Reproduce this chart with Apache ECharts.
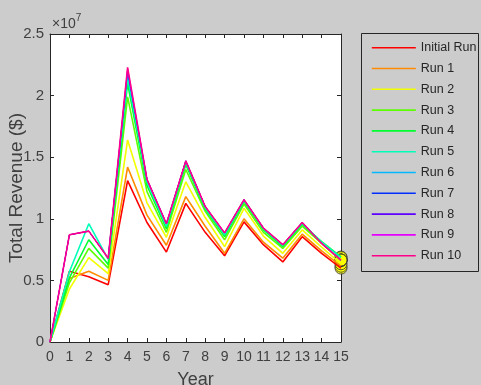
<!DOCTYPE html>
<html>
<head>
<meta charset="utf-8">
<script src="https://cdn.jsdelivr.net/npm/echarts@6/dist/echarts.min.js"></script>
<style>
  html, body { margin: 0; padding: 0; background: #cccccc; }
  #chart { width: 481px; height: 385px; }
</style>
</head>
<body>
<div id="chart"></div>
<script>
// Simulated total revenue per year, in units of 10^7 dollars
const years = [0, 1, 2, 3, 4, 5, 6, 7, 8, 9, 10, 11, 12, 13, 14, 15];
const runNames = ['Initial Run', 'Run 1', 'Run 2', 'Run 3', 'Run 4', 'Run 5',
                  'Run 6', 'Run 7', 'Run 8', 'Run 9', 'Run 10'];
const runColors = ['#ff0000', '#ff8b00', '#f2ff00', '#5dff00', '#00ff2e', '#00ffb9',
                   '#00b9ff', '#002eff', '#5d00ff', '#e800ff', '#ff008b'];

const initialRun = [0, 0.575, 0.530, 0.465, 1.31, 0.97, 0.730, 1.125, 0.89, 0.700, 0.975, 0.790, 0.650, 0.855, 0.720, 0.600];
const run1       = [0, 0.515, 0.575, 0.500, 1.42, 1.03, 0.785, 1.180, 0.94, 0.720, 1.000, 0.810, 0.680, 0.875, 0.740, 0.615];
const run2       = [0, 0.430, 0.685, 0.555, 1.64, 1.13, 0.850, 1.300, 1.01, 0.775, 1.085, 0.860, 0.720, 0.910, 0.770, 0.635];
const run3       = [0, 0.480, 0.760, 0.600, 1.99, 1.22, 0.890, 1.400, 1.06, 0.830, 1.120, 0.890, 0.760, 0.940, 0.800, 0.660];
const run4       = [0, 0.520, 0.830, 0.630, 2.10, 1.27, 0.920, 1.440, 1.08, 0.855, 1.140, 0.910, 0.775, 0.955, 0.815, 0.690];
const run5       = [0, 0.570, 0.960, 0.670, 2.15, 1.30, 0.940, 1.460, 1.09, 0.870, 1.150, 0.920, 0.785, 0.965, 0.810, 0.685];
const run6       = [0, 0.870, 0.900, 0.680, 2.18, 1.32, 0.960, 1.470, 1.10, 0.885, 1.155, 0.925, 0.790, 0.970, 0.800, 0.665];
const run7       = [0, 0.870, 0.900, 0.680, 2.20, 1.32, 0.960, 1.470, 1.10, 0.885, 1.155, 0.925, 0.790, 0.970, 0.800, 0.665];
const run8       = [0, 0.870, 0.900, 0.680, 2.21, 1.32, 0.960, 1.470, 1.10, 0.885, 1.155, 0.925, 0.790, 0.970, 0.800, 0.665];
const run9       = [0, 0.870, 0.900, 0.680, 2.22, 1.32, 0.960, 1.470, 1.10, 0.885, 1.155, 0.925, 0.790, 0.970, 0.800, 0.665];
const run10      = [0, 0.870, 0.900, 0.680, 2.23, 1.32, 0.960, 1.470, 1.10, 0.885, 1.155, 0.925, 0.790, 0.970, 0.800, 0.665];

const runs = [initialRun, run1, run2, run3, run4, run5, run6, run7, run8, run9, run10];
const yTicks = [0, 0.5, 1, 1.5, 2, 2.5];

const sans = "'Liberation Sans', Arial, sans-serif";
const axisInk = '#262626';
const labelInk = '#404040';

// runs 6-9 sit beneath run 10, so they are drawn a little thinner
const lineSeries = runs.map((vals, i) => ({
  name: runNames[i],
  type: 'line',
  xAxisIndex: 0,
  yAxisIndex: 0,
  symbol: 'none',
  silent: true,
  lineStyle: { color: runColors[i], width: (i >= 6 && i <= 9) ? 1 : 1.6 },
  itemStyle: { color: runColors[i] },
  data: years.map((y, k) => [y, vals[k]])
}));

// final-year markers for every run
const endMarkers = {
  type: 'scatter',
  xAxisIndex: 0,
  yAxisIndex: 0,
  symbol: 'circle',
  symbolSize: 12,
  silent: true,
  itemStyle: { color: '#ffff00', borderColor: '#333333', borderWidth: 1 },
  data: runs.map(vals => [years[years.length - 1], vals[vals.length - 1]])
};

const baseX = {
  type: 'value', min: 0, max: 15, interval: 1,
  splitLine: { show: false },
  axisLine: { show: true, onZero: false, lineStyle: { color: axisInk, width: 1 } },
  axisTick: { show: true, inside: true, length: 4, lineStyle: { color: axisInk } }
};
const baseY = {
  type: 'value', min: 0, max: 2.5, interval: 0.5,
  splitLine: { show: false },
  axisLine: { show: true, onZero: false, lineStyle: { color: axisInk, width: 1 } },
  axisTick: { show: true, inside: true, length: 4, lineStyle: { color: axisInk } }
};

const option = {
  animation: false,
  backgroundColor: '#cccccc',
  grid: {
    left: 50, right: 140, top: 34, bottom: 43,
    containLabel: false, outerBoundsMode: 'none',
    show: true, backgroundColor: '#ffffff', borderWidth: 0
  },
  xAxis: [
    Object.assign({}, baseX, {
      position: 'bottom',
      name: 'Year', nameLocation: 'middle', nameGap: 29, nameMoveOverlap: false,
      nameTextStyle: { fontFamily: sans, fontSize: 18, color: labelInk },
      axisLabel: { margin: 8, fontFamily: sans, fontSize: 14, color: labelInk, hideOverlap: false }
    }),
    Object.assign({}, baseX, { position: 'top', axisLabel: { show: false } })
  ],
  yAxis: [
    Object.assign({}, baseY, {
      position: 'left',
      name: 'Total Revenue ($)', nameLocation: 'middle', nameGap: 24, nameRotate: 90,
      nameMoveOverlap: false,
      nameTextStyle: { fontFamily: sans, fontSize: 19, color: labelInk },
      axisLabel: {
        margin: 6, fontFamily: sans, fontSize: 15, color: labelInk,
        formatter: v => yTicks.includes(v) ? String(v) : ''
      }
    }),
    Object.assign({}, baseY, { position: 'right', axisLabel: { show: false } })
  ],
  legend: {
    orient: 'vertical',
    left: 371, top: 40.7,
    padding: 0,
    itemWidth: 44, itemHeight: 14, itemGap: 6.8,
    data: runNames,
    itemStyle: { opacity: 0 },
    lineStyle: { width: 1.6 },
    textStyle: { fontFamily: sans, fontSize: 12.5, color: '#262626', lineHeight: 14 }
  },
  graphic: [
    {
      type: 'rect', silent: true,
      shape: { x: 361.5, y: 33.5, width: 117, height: 238 },
      style: { fill: 'none', stroke: axisInk, lineWidth: 1 }
    },
    {
      type: 'text', silent: true, left: 52, top: 13,
      style: {
        text: '{a|×10}{b|7}',
        rich: {
          a: { fontFamily: sans, fontSize: 14, fill: labelInk, verticalAlign: 'bottom' },
          b: { fontFamily: sans, fontSize: 10, fill: labelInk, verticalAlign: 'top', padding: [0, 0, 8, 0] }
        }
      }
    }
  ],
  series: lineSeries.concat([endMarkers])
};

const chart = echarts.init(document.getElementById('chart'), null, { renderer: 'canvas' });
chart.setOption(option);
</script>
</body>
</html>
